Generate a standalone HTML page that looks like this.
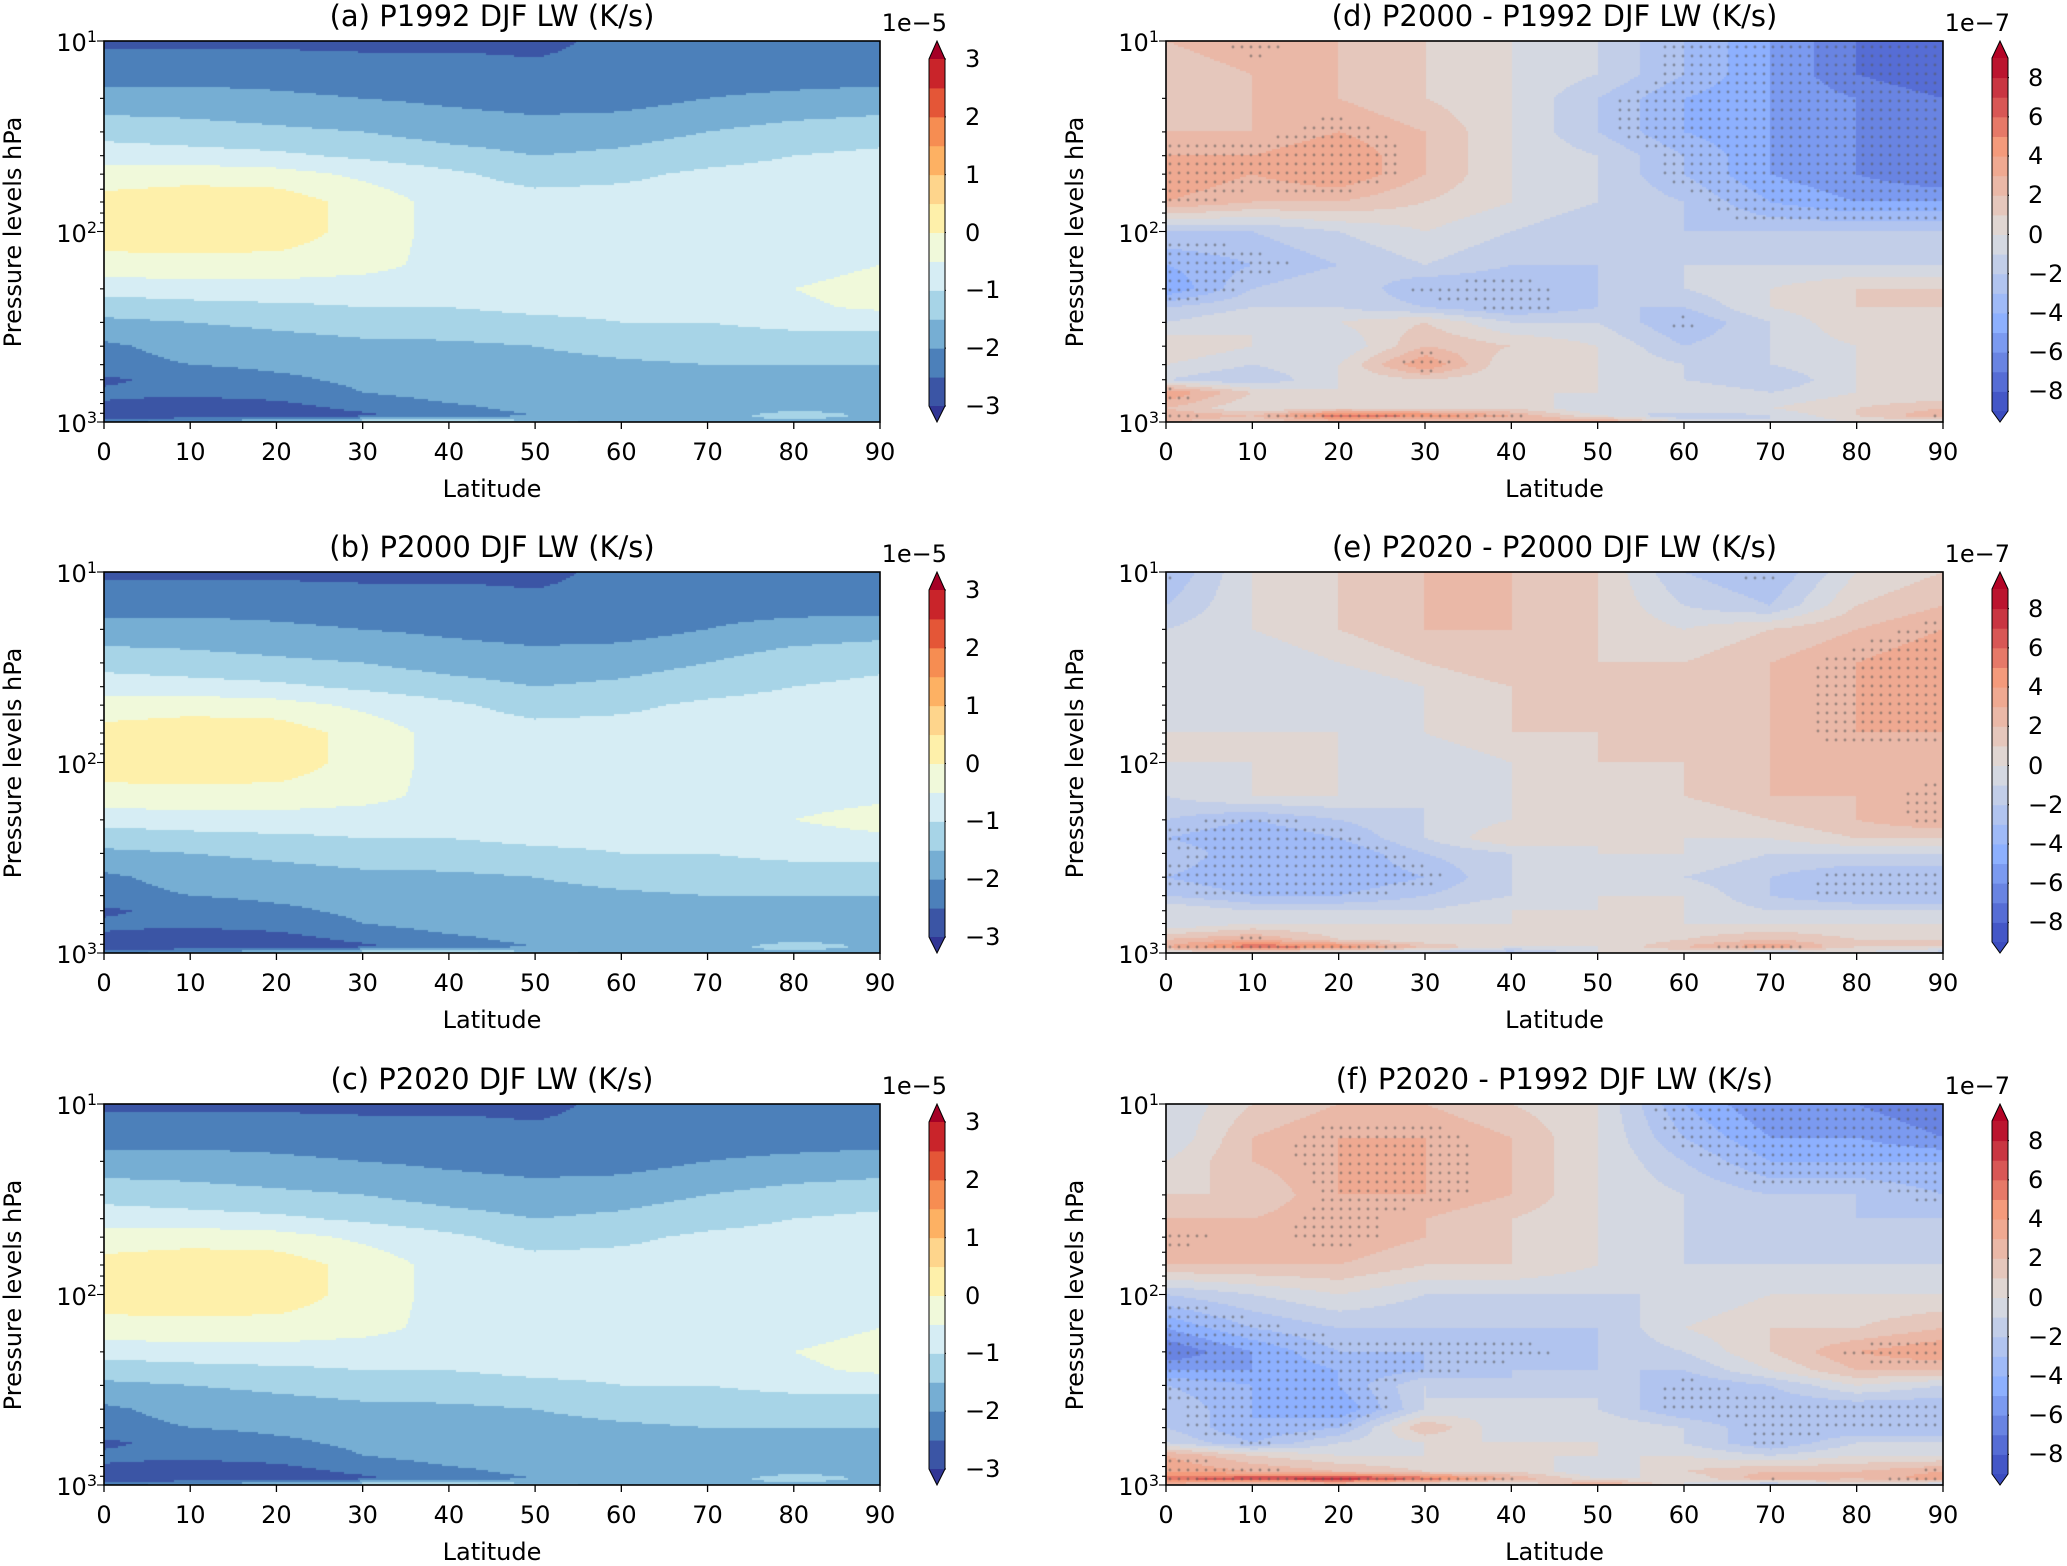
<!DOCTYPE html>
<html><head><meta charset="utf-8">
<style>
body{margin:0;background:#fff;width:2067px;height:1563px;position:relative;overflow:hidden;font-family:"DejaVu Sans","Liberation Sans",sans-serif;color:#000}
.abs{position:absolute}
.title{font-size:29px;white-space:nowrap;transform:translate(-50%,-50%)}
.tick{font-size:24px;white-space:nowrap}
.ylab{font-size:24px;white-space:nowrap;transform:translate(-50%,-50%) rotate(-90deg)}
</style></head><body>
<div id="root"></div>
<script>
// ---- data ----
const lats=[0,10,20,30,40,50,60,70,80,90];
const levels=[10,15,20,30,40,50,70,100,150,200,250,300,400,500,600,700,850,925,1000];
const fieldA=[
[-2.6,-2.6,-2.6,-2.6,-2.6,-2.6,-2.4,-2.3,-2.3,-2.3],
[-2.2,-2.2,-2.2,-2.3,-2.3,-2.4,-2.4,-2.2,-2.2,-2.2],
[-1.8,-1.8,-1.9,-2.0,-2.1,-2.2,-2.2,-2.0,-1.9,-1.8],
[-1.2,-1.3,-1.4,-1.5,-1.7,-1.8,-1.7,-1.5,-1.3,-1.2],
[-0.7,-0.8,-0.9,-1.1,-1.3,-1.5,-1.4,-1.2,-1.0,-0.9],
[-0.3,-0.2,-0.3,-0.6,-0.9,-1.2,-1.1,-0.9,-0.8,-0.7],
[0.2,0.3,0.3,-0.2,-0.7,-0.8,-0.8,-0.8,-0.8,-0.8],
[0.3,0.35,0.3,-0.2,-0.7,-0.8,-0.8,-0.8,-0.8,-0.8],
[-0.2,-0.2,-0.2,-0.3,-0.7,-0.8,-0.8,-0.8,-0.7,-0.5],
[-0.8,-0.7,-0.7,-0.8,-0.9,-0.9,-0.9,-0.8,-0.5,-0.3],
[-1.3,-1.2,-1.1,-1.0,-1.0,-0.9,-0.9,-0.8,-0.6,-0.4],
[-1.6,-1.5,-1.4,-1.3,-1.2,-1.1,-1.0,-1.0,-0.9,-0.9],
[-2.1,-1.8,-1.7,-1.6,-1.6,-1.5,-1.3,-1.2,-1.2,-1.2],
[-2.2,-2.0,-1.9,-1.8,-1.7,-1.7,-1.6,-1.5,-1.5,-1.5],
[-2.6,-2.3,-2.1,-1.9,-1.8,-1.7,-1.7,-1.6,-1.6,-1.6],
[-2.4,-2.4,-2.3,-2.0,-1.8,-1.8,-1.8,-1.7,-1.6,-1.6],
[-2.6,-2.8,-2.7,-2.4,-2.1,-1.9,-1.8,-1.7,-1.6,-1.6],
[-2.8,-2.9,-2.8,-2.6,-2.2,-2.0,-1.9,-1.7,-1.3,-1.6],
[-2.2,-1.8,-1.5,-1.0,-0.8,-1.4,-1.6,-1.6,-1.6,-1.7]];
const fieldB=[
[-2.6,-2.6,-2.6,-2.6,-2.6,-2.6,-2.4,-2.3,-2.3,-2.3],
[-2.2,-2.2,-2.2,-2.3,-2.3,-2.4,-2.4,-2.2,-2.2,-2.2],
[-1.8,-1.8,-1.9,-2.0,-2.1,-2.2,-2.2,-2.0,-1.8,-1.7],
[-1.2,-1.3,-1.4,-1.5,-1.7,-1.8,-1.7,-1.5,-1.2,-1.1],
[-0.7,-0.8,-0.9,-1.1,-1.3,-1.5,-1.4,-1.2,-1.0,-0.9],
[-0.3,-0.2,-0.3,-0.6,-0.9,-1.2,-1.1,-0.9,-0.8,-0.7],
[0.2,0.3,0.3,-0.2,-0.7,-0.8,-0.8,-0.8,-0.8,-0.8],
[0.3,0.35,0.3,-0.2,-0.7,-0.8,-0.8,-0.8,-0.8,-0.8],
[-0.2,-0.2,-0.2,-0.3,-0.7,-0.8,-0.8,-0.8,-0.7,-0.6],
[-0.8,-0.7,-0.7,-0.8,-0.9,-0.9,-0.9,-0.8,-0.5,-0.3],
[-1.3,-1.2,-1.1,-1.0,-1.0,-0.9,-0.9,-0.8,-0.7,-0.6],
[-1.6,-1.5,-1.4,-1.3,-1.2,-1.1,-1.0,-1.0,-0.9,-0.9],
[-2.1,-1.8,-1.7,-1.6,-1.6,-1.5,-1.3,-1.2,-1.2,-1.2],
[-2.2,-2.0,-1.9,-1.8,-1.7,-1.7,-1.6,-1.5,-1.5,-1.5],
[-2.6,-2.3,-2.1,-1.9,-1.8,-1.7,-1.7,-1.6,-1.6,-1.6],
[-2.4,-2.4,-2.3,-2.0,-1.8,-1.8,-1.8,-1.7,-1.6,-1.6],
[-2.6,-2.8,-2.7,-2.4,-2.1,-1.9,-1.8,-1.7,-1.6,-1.6],
[-2.8,-2.9,-2.8,-2.6,-2.2,-2.0,-1.9,-1.7,-1.3,-1.6],
[-2.2,-1.8,-1.5,-1.0,-0.8,-1.4,-1.6,-1.6,-1.6,-1.7]];
const fieldC=[
[-2.6,-2.6,-2.6,-2.6,-2.6,-2.6,-2.4,-2.3,-2.3,-2.3],
[-2.2,-2.2,-2.2,-2.3,-2.3,-2.4,-2.4,-2.2,-2.2,-2.2],
[-1.8,-1.8,-1.9,-2.0,-2.1,-2.2,-2.2,-2.0,-1.9,-1.8],
[-1.2,-1.3,-1.4,-1.5,-1.7,-1.8,-1.7,-1.5,-1.3,-1.2],
[-0.7,-0.8,-0.9,-1.1,-1.3,-1.5,-1.4,-1.2,-1.0,-0.9],
[-0.3,-0.2,-0.3,-0.6,-0.9,-1.2,-1.1,-0.9,-0.8,-0.7],
[0.2,0.3,0.3,-0.2,-0.7,-0.8,-0.8,-0.8,-0.8,-0.8],
[0.3,0.35,0.3,-0.2,-0.7,-0.8,-0.8,-0.8,-0.8,-0.8],
[-0.2,-0.2,-0.2,-0.3,-0.7,-0.8,-0.8,-0.8,-0.7,-0.5],
[-0.8,-0.7,-0.7,-0.8,-0.9,-0.9,-0.9,-0.8,-0.5,-0.3],
[-1.3,-1.2,-1.1,-1.0,-1.0,-0.9,-0.9,-0.8,-0.6,-0.4],
[-1.6,-1.5,-1.4,-1.3,-1.2,-1.1,-1.0,-1.0,-0.9,-0.9],
[-2.1,-1.8,-1.7,-1.6,-1.6,-1.5,-1.3,-1.2,-1.2,-1.2],
[-2.2,-2.0,-1.9,-1.8,-1.7,-1.7,-1.6,-1.5,-1.5,-1.5],
[-2.6,-2.3,-2.1,-1.9,-1.8,-1.7,-1.7,-1.6,-1.6,-1.6],
[-2.4,-2.4,-2.3,-2.0,-1.8,-1.8,-1.8,-1.7,-1.6,-1.6],
[-2.6,-2.8,-2.7,-2.4,-2.1,-1.9,-1.8,-1.7,-1.6,-1.6],
[-2.8,-2.9,-2.8,-2.6,-2.2,-2.0,-1.9,-1.7,-1.3,-1.6],
[-2.2,-1.8,-1.5,-1.0,-0.8,-1.4,-1.6,-1.6,-1.6,-1.7]];
const fieldD=[
[2,3,2,1,0,-1,-3,-5,-7,-8],
[1,2,2,1,0,-1,-3,-5,-7,-8],
[1,2,2,1,0,-2,-4,-5,-6,-7],
[2,2,3,2,0,-2,-4,-5,-6,-6],
[3,3,4,2,0,-1,-3,-5,-6,-7],
[4,3,4,2,0,-1,-3,-5,-6,-7],
[3,2,2,1,0,-1,-2,-4,-5,-5],
[-2,-2,-1,0,-1,-2,-2,-2,-2,-2],
[-4,-3,-2,-1,-2,-2,-1,-1,-1,-1],
[-5,-2,-1,-3,-3,-2,-1,0,1,1],
[-2,-1,-1,-2,-3,-2,-2,0,1,1],
[-1,0,0,1,-1,-1,-3,-1,1,0],
[1,0,-1,2,1,0,-2,-1,0,0],
[0,-1,0,4,0,0,-1,-1,0,0],
[-1,-2,0,1,0,0,-1,-2,0,0],
[4,1,0,0,0,0,0,-1,0,0],
[2,0,1,1,1,-1,0,0,1,2],
[3,2,6,5,3,0,-2,-1,1,3],
[2,1,2,1,2,4,0,-1,0,0]];
const fieldE=[
[-3,0,1,2,2,1,-2,-3,0,1],
[-2,0,1,2,2,1,-1,-2,1,2],
[-1,0,1,2,2,1,0,1,2,3],
[-1,-1,0,1,2,1,1,2,3,4],
[-1,-1,-1,0,1,1,1,2,3,4],
[-1,-1,-1,0,1,1,1,2,3,4],
[0,0,0,0,1,1,1,2,3,3],
[0,0,0,-1,0,1,1,2,2,2],
[-1,0,0,-1,0,0,1,2,2,3],
[-2,-3,-2,-1,0,0,0,1,2,3],
[-3,-4,-3,-1,1,0,0,0,1,1],
[-2,-4,-4,-2,-1,0,0,-1,-1,-1],
[-3,-4,-4,-3,-1,-1,-1,-2,-3,-3],
[-2,-3,-3,-2,-1,0,0,-2,-3,-3],
[0,-1,-1,-1,0,0,0,-1,-1,-1],
[-1,0,0,0,0,0,0,0,0,0],
[2,3,1,0,0,0,1,2,1,1],
[3,6,5,2,0,0,2,4,1,1],
[0,-1,-1,-2,-3,0,0,-2,0,-2]];
const fieldF=[
[-1,1,2,2,1,0,-4,-6,-6,-7],
[-1,2,3,3,2,0,-3,-5,-5,-6],
[0,2,3,3,2,0,-2,-4,-4,-4],
[1,1,3,3,2,0,-1,-2,-2,-3],
[2,2,3,2,1,0,-1,-2,-2,-2],
[3,2,3,2,1,0,-1,-2,-2,-2],
[2,2,2,1,1,0,-1,-1,-1,-1],
[-2,-1,0,-1,-1,-1,-1,0,0,0],
[-5,-3,-2,-2,-2,-2,0,1,1,2],
[-7,-5,-3,-3,-3,-2,-1,1,3,4],
[-5,-5,-4,-3,-2,-2,-2,0,2,2],
[-3,-4,-4,-1,-2,-1,-3,-2,0,-1],
[-2,-4,-5,-1,0,-1,-3,-3,-3,-3],
[-2,-4,-3,2,-1,0,-1,-3,-3,-3],
[-1,-3,-1,0,0,0,-1,-3,-1,-1],
[3,1,0,0,0,0,0,-1,0,0],
[4,3,2,1,1,-1,1,2,2,3],
[6,7,8,6,3,0,0,3,2,4],
[2,0,1,-1,-1,4,0,-3,0,-2]];
const xTicks=[0,10,20,30,40,50,60,70,80,90];
const cbTicksAbs=[3,2,1,0,-1,-2,-3];
const cbTicksDiff=[8,6,4,2,0,-2,-4,-6,-8];
const titles=["(a) P1992 DJF LW (K/s)","(b) P2000 DJF LW (K/s)","(c) P2020 DJF LW (K/s)","(d) P2000 - P1992 DJF LW (K/s)","(e) P2020 - P2000 DJF LW (K/s)","(f) P2020 - P1992 DJF LW (K/s)"];

// ---- colormaps ----
const absCols=["#313695","#3b55a5","#4c80ba","#76aed3","#a7d4e7","#d6edf4","#f0f9da","#fef0aa","#fed58c","#fdb163","#f68d52","#e45637","#c9242a","#a50026"];
function absColor(v){let i=Math.floor((v+3)/0.5)+1;i=Math.max(0,Math.min(13,i));return absCols[i];}
const cw=[[59,76,192],[141,176,254],[221,221,221],[244,154,123],[180,4,38]];
function cwAt(t){t=Math.max(0,Math.min(1,t));const s=t*4,i=Math.min(3,Math.floor(s)),f=s-i;const a=cw[i],b=cw[i+1];return`rgb(${[0,1,2].map(k=>Math.round(a[k]+(b[k]-a[k])*f)).join(',')})`;}
function diffColor(v){let b=Math.floor(v);b=Math.max(-10,Math.min(9,b));return cwAt((b+0.5+9)/18);}

const root=document.getElementById('root');
function div(cls,txt,x,y,extra){const d=document.createElement('div');d.className='abs '+cls;d.style.left=x+'px';d.style.top=y+'px';if(txt!=null)d.innerHTML=txt;if(extra)Object.assign(d.style,extra);root.appendChild(d);return d;}

function sample(field,lat,lp){
  const lls=levels.map(Math.log10);
  let j=0;while(j<lls.length-2&&lp>lls[j+1])j++;
  let fy=(lp-lls[j])/(lls[j+1]-lls[j]);fy=Math.max(0,Math.min(1,fy));
  let fi=lat/10,i=Math.min(8,Math.floor(fi)),fx=fi-i;
  const a=field[j][i],b=field[j][i+1],c=field[j+1][i],d=field[j+1][i+1];
  return (a*(1-fx)+b*fx)*(1-fy)+(c*(1-fx)+d*fx)*fy;
}

function panel(k,field,L,T,W,H,isDiff){
  const xs=lat=>L+lat/90*W, ys=p=>T+(Math.log10(p)-1)/2*H;
  const cv=document.createElement('canvas');cv.width=W;cv.height=H;cv.className='abs';cv.style.left=L+'px';cv.style.top=T+'px';
  
  
  root.appendChild(cv);
  const ctx=cv.getContext('2d');
  const step=2;
  for(let py=0;py<H;py+=step){const lp=1+(py+1)/H*2;
    for(let px=0;px<W;px+=step){const v=sample(field,(px+1)/W*90,lp);
      ctx.fillStyle=isDiff?diffColor(v):absColor(v);ctx.fillRect(px,py,step,step);}}
  if(isDiff){ctx.fillStyle='rgba(90,90,90,0.55)';
    for(let py=6;py<H;py+=9)for(let px=(py%18?4:8);px<W;px+=9){const v=sample(field,px/W*90,1+py/H*2);
      if(Math.abs(v)>=2.5){ctx.beginPath();ctx.arc(px,py,1.4,0,6.3);ctx.fill();}}}
  const ns='http://www.w3.org/2000/svg';
  const svg=document.createElementNS(ns,'svg');svg.setAttribute('width',W+40);svg.setAttribute('height',H+40);
  svg.style.position='absolute';svg.style.left=(L-20)+'px';svg.style.top=(T-20)+'px';svg.style.overflow='visible';
  
  
  let s=`<rect x="20" y="20" width="${W}" height="${H}" fill="none" stroke="#000" stroke-width="1.6"/>`;
  xTicks.forEach(t=>{const x=xs(t)-L+20;s+=`<line x1="${x}" x2="${x}" y1="${H+20}" y2="${H+27}" stroke="#000" stroke-width="1.3"/>`;});
  for(let e=1;e<=3;e++)for(let m=1;m<=9;m++){const p=m*Math.pow(10,e);if(p>1000)break;const y=ys(p)-T+20;
    const len=m===1?7:4;s+=`<line x1="${20-len}" x2="20" y1="${y}" y2="${y}" stroke="#000" stroke-width="1.1"/>`;}
  svg.innerHTML=s;root.appendChild(svg);
  xTicks.forEach(t=>{const d=div('tick',String(t),xs(t),T+H+30,{transform:'translate(-50%,-50%)'});
    
    });
  [1,2,3].forEach(e=>{const d=div('tick','10<sup style="font-size:16px">'+e+'</sup>',L-7,ys(Math.pow(10,e))-1,{transform:'translate(-100%,-50%)',lineHeight:'24px'});
    
    });
  const xl=div('ylab','Latitude',L+W/2,T+H+67,{transform:'translate(-50%,-50%)'});
  
  
  const yl=div('ylab','Pressure levels hPa',L-91,T+H/2);
  
  
  const tt=div('title',titles[k],L+W/2,T-25);
  
  
  const cx=L+W+49,cwid=16;
  const cb=document.createElementNS(ns,'svg');cb.setAttribute('width',cwid+2);cb.setAttribute('height',H+4);
  cb.style.position='absolute';cb.style.left=(cx-1)+'px';cb.style.top=(T-1)+'px';
  
  
  let top,bot,nb,ticks,vmin,vmax;
  if(!isDiff){vmin=-3;vmax=3;top=18;bot=H-16;nb=12;ticks=cbTicksAbs;}
  else{vmin=-9;vmax=9;top=17;bot=H-11;nb=18;ticks=cbTicksDiff;}
  const yv=v=>1+top+(vmax-v)/(vmax-vmin)*(bot-top);
  let c='';const bw=(vmax-vmin)/nb;
  for(let i=0;i<nb;i++){const v0=vmin+i*bw;const y1=yv(v0+bw),y2=yv(v0);
    c+=`<rect x="1" y="${y1}" width="${cwid}" height="${y2-y1+0.5}" fill="${isDiff?diffColor(v0+bw/2):absColor(v0+bw/2)}"/>`;}
  const cTop=isDiff?diffColor(vmax+0.5):absCols[13],cBot=isDiff?diffColor(vmin-0.5):absCols[0];
  c+=`<polygon points="1,${yv(vmax)} ${1+cwid},${yv(vmax)} ${1+cwid/2},1" fill="${cTop}"/>`;
  c+=`<polygon points="1,${yv(vmin)} ${1+cwid},${yv(vmin)} ${1+cwid/2},${H+1}" fill="${cBot}"/>`;
  c+=`<polygon points="1,${yv(vmax)} ${1+cwid/2},1 ${1+cwid},${yv(vmax)} ${1+cwid},${yv(vmin)} ${1+cwid/2},${H+1} 1,${yv(vmin)}" fill="none" stroke="#000" stroke-width="1"/>`;
  ticks.forEach(t=>{c+=`<line x1="${1+cwid}" x2="${cwid+2}" y1="${yv(t)}" y2="${yv(t)}" stroke="#000"/>`;});
  cb.innerHTML=c;root.appendChild(cb);
  ticks.forEach(t=>{const d=div('tick',(t<0?'\u2212':'')+Math.abs(t),cx+cwid+20,T-1+yv(t),{transform:'translateY(-50%)'});
    
    });
  const ex=div('tick',isDiff?'1e\u22127':'1e\u22125',cx+cwid+2,T-18,{transform:'translate(-100%,-50%)'});
  
  
}
const fields=[fieldA,fieldB,fieldC,fieldD,fieldE,fieldF];
const tops=[41,572,1104];
for(let k=0;k<6;k++){const col=k<3?0:1;panel(k,fields[k],col?1166:104,tops[k%3],col?777:776,381,col===1);}
</script>
</body></html>
